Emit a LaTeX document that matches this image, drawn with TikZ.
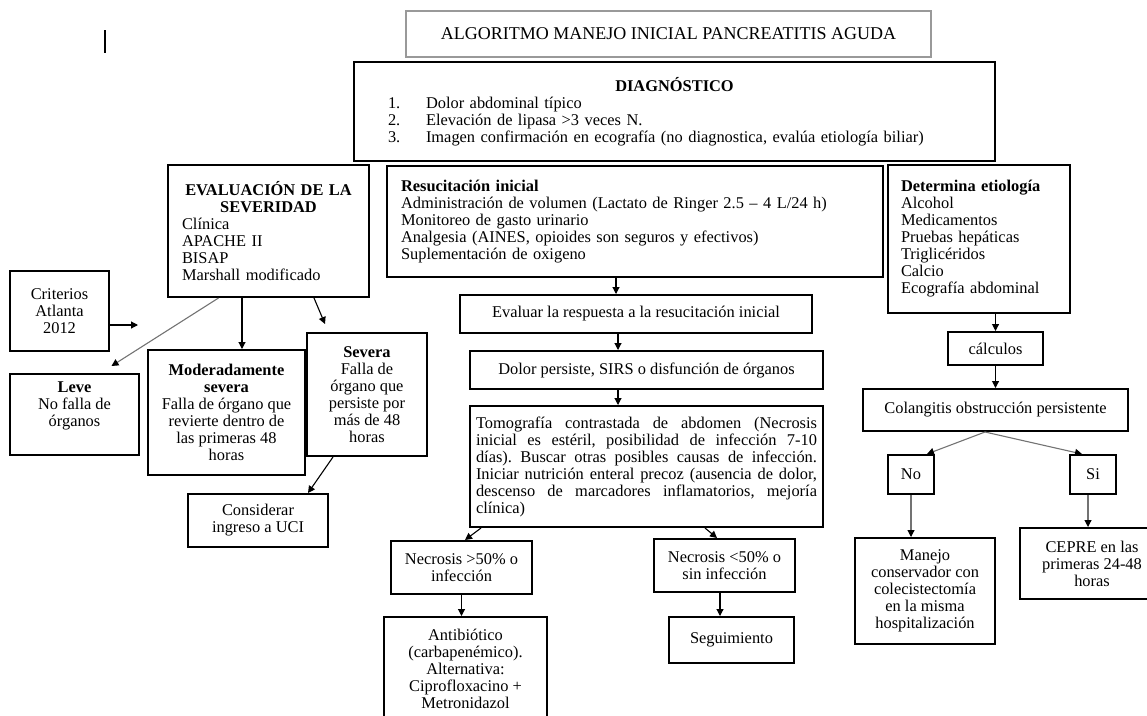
\documentclass[tikz,border=0pt]{standalone}
\usepackage{fontspec}
\setmainfont{Liberation Serif}
\usetikzlibrary{arrows.meta}
\frenchspacing

\begin{document}
\begin{tikzpicture}[x=1pt,y=-1pt,
    every node/.style={font=\fontsize{16.4}{17}\selectfont},
    caja/.style={draw,line width=2pt,inner sep=0pt,align=center},
    flecha/.style={line width=1.1pt,-{Triangle[length=7pt,width=7pt,black]}},
    gris/.style={draw=black!55}]
\useasboundingbox (0,0) rectangle (1147,715);
\clip (0,0) rectangle (1147,715);
\draw[line width=1.6pt] (105,30) -- (105,53);
\node[caja,draw=black!40,minimum width=525pt,minimum height=46pt,
  font=\fontsize{18}{20}\selectfont] (tit) at (668.5,34)
  {ALGORITMO MANEJO INICIAL PANCREATITIS AGUDA};
\node[caja,align=left,minimum width=641pt,minimum height=99pt,text width=573pt] (diag) at (674.5,111.5)
  {{\centering\textbf{DIAGNÓSTICO}\par}
   \makebox[38pt][l]{1.}Dolor abdominal típico\\
   \makebox[38pt][l]{2.}Elevación de lipasa >3 veces N.\\
   \makebox[38pt][l]{3.}Imagen confirmación en ecografía (no diagnostica, evalúa etiología biliar)};
\node[caja,align=left,minimum width=201pt,minimum height=132pt,text width=173pt] (eval) at (268.5,231)
  {{\centering\textbf{EVALUACIÓN DE LA\\SEVERIDAD}\par}
   Clínica\\APACHE II\\BISAP\\Marshall modificado};
\node[caja,align=left,minimum width=496pt,minimum height=111pt,text width=468pt] (resu) at (635,221.5)
  {\textbf{Resucitación inicial}\\
   Administración de volumen (Lactato de Ringer 2.5 -- 4 L/24 h)\\
   Monitoreo de gasto urinario\\
   Analgesia (AINES, opioides son seguros y efectivos)\\
   Suplementación de oxigeno};
\node[caja,align=left,minimum width=182pt,minimum height=148pt,text width=156pt] (det) at (979,239)
  {\textbf{Determina etiología}\\Alcohol\\Medicamentos\\Pruebas hepáticas\\Triglicéridos\\Calcio\\Ecografía abdominal};
\node[caja,minimum width=99pt,minimum height=80pt] (crit) at (59.5,311) {Criterios\\Atlanta\\2012};
\node[caja,minimum width=129pt,minimum height=81pt,text depth=20pt] (leve) at (74.5,414.5)
  {\textbf{Leve}\\No falla de\\órganos};
\node[caja,minimum width=157pt,minimum height=125pt] (mod) at (226.5,412.5)
  {\textbf{Moderadamente}\\\textbf{severa}\\Falla de órgano que\\revierte dentro de\\las primeras 48\\horas};
\node[caja,minimum width=120pt,minimum height=123pt] (sev) at (367,394.5)
  {\textbf{Severa}\\Falla de\\órgano que\\persiste por\\más de 48\\horas};
\node[caja,minimum width=140pt,minimum height=53pt] (cons) at (258,520.5) {Considerar\\ingreso a UCI};
\node[caja,minimum width=352pt,minimum height=38pt] (evalr) at (636,314) {Evaluar la respuesta a la resucitación inicial};
\node[caja,minimum width=353pt,minimum height=38pt] (dolor) at (646.5,370) {Dolor persiste, SIRS o disfunción de órganos};
\node[caja,align=justify,minimum width=353pt,minimum height=121pt,text width=341pt] (tomo) at (646.5,466.5)
  {Tomografía contrastada de abdomen (Necrosis\linebreak
   inicial es estéril, posibilidad de infección 7-10\linebreak
   días). Buscar otras posibles causas de infección.\linebreak
   Iniciar nutrición enteral precoz (ausencia de dolor,\linebreak
   descenso de marcadores inflamatorios, mejoría\linebreak
   clínica)};
\node[caja,minimum width=141pt,minimum height=53pt] (nec1) at (461.5,567.5) {Necrosis >50\% o\\infección};
\node[caja,minimum width=141pt,minimum height=53pt] (nec2) at (724.5,565.5) {Necrosis <50\% o\\sin infección};
\node[caja,minimum width=163pt,minimum height=103pt] (anti) at (465.5,668.5)
  {Antibiótico\\(carbapenémico).\\Alternativa:\\Ciprofloxacino +\\Metronidazol};
\node[caja,minimum width=125pt,minimum height=46pt] (seg) at (731.5,640) {Seguimiento};
\node[caja,minimum width=95pt,minimum height=33pt] (calc) at (995.5,348.5) {cálculos};
\node[caja,minimum width=265pt,minimum height=42pt] (col) at (995.5,410) {Colangitis obstrucción persistente};
\node[caja,minimum width=46pt,minimum height=39pt] (no) at (911,474.5) {No};
\node[caja,minimum width=46pt,minimum height=39pt] (si) at (1093,474.5) {Si};
\node[caja,minimum width=140pt,minimum height=106pt] (man) at (925,591)
  {Manejo\\conservador con\\colecistectomía\\en la misma\\hospitalización};
\node[caja,minimum width=144pt,minimum height=71pt] (cepre) at (1092,563.5) {CEPRE en las\\primeras 24-48\\horas};
\coordinate (critfin) at (138,325);
\draw[flecha] (crit.east |- critfin) -- (critfin);
\draw[flecha,gris] ([xshift=-50pt]eval.south) -- ([xshift=37pt,yshift=7pt]leve.north);
\draw[flecha] ([xshift=15.5pt]mod.north |- eval.south) -- ([xshift=15.5pt]mod.north);
\draw[flecha] ([xshift=45.5pt]eval.south) -- ([xshift=-42pt,yshift=8pt]sev.north);
\draw[flecha] ([xshift=-34pt]sev.south) -- ([xshift=50pt]cons.north);
\draw[flecha] ([xshift=-19pt]resu.south) -- ([xshift=-19pt]resu.south |- evalr.north);
\draw[flecha] ([xshift=-18pt]evalr.south) -- ([xshift=-18pt]evalr.south |- dolor.north);
\draw[flecha] ([xshift=-28.5pt]dolor.south) -- ([xshift=-28.5pt]tomo.north);
\draw[flecha] ([xshift=-165.5pt]tomo.south) -- ([xshift=3.5pt]nec1.north);
\draw[flecha] ([xshift=58.5pt]tomo.south) -- ([xshift=-7.5pt]nec2.north);
\draw[flecha] (nec1.south) -- (nec1.south |- anti.north);
\draw[flecha] ([xshift=-4.5pt]nec2.south) -- ([xshift=-4.5pt]nec2.south |- seg.north);
\draw[flecha] (calc.north |- det.south) -- (calc.north);
\draw[flecha] (calc.south) -- (col.north);
\draw[flecha,gris] ([xshift=-10.5pt]col.south) -- ([xshift=16pt]no.north);
\draw[flecha,gris] ([xshift=-10.5pt]col.south) -- ([xshift=-11pt]si.north);
\draw[flecha,gris] (no.south) -- (no.south |- man.north);
\draw[flecha,gris] ([xshift=-5pt]si.south) -- ([xshift=-5pt]si.south |- cepre.north);
\end{tikzpicture}
\end{document}
